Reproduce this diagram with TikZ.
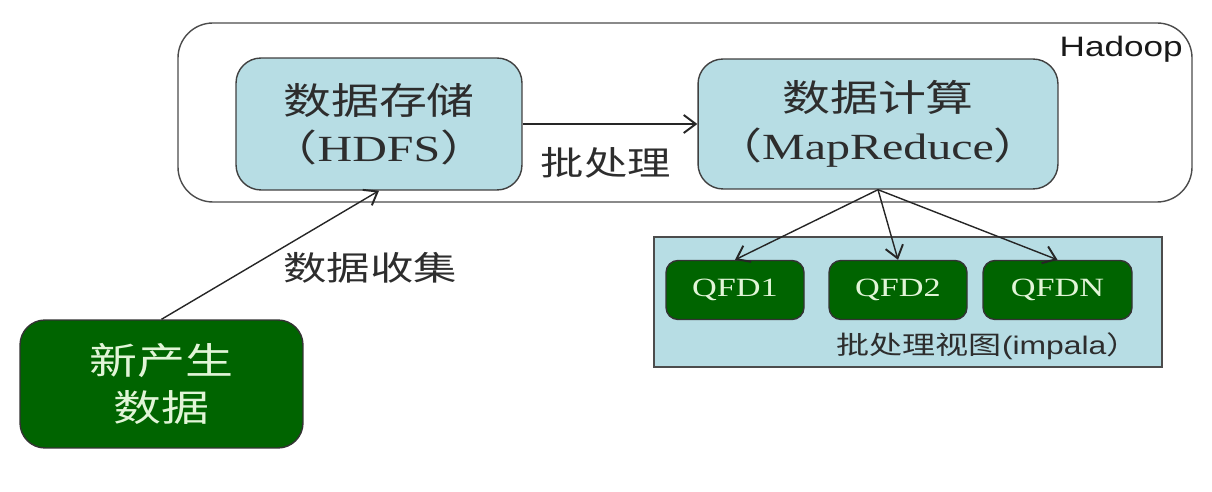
\documentclass[tikz,border=0pt]{standalone}
\usepackage{fontspec}
\setmainfont{Liberation Serif}[FakeStretch=1.3]
\newfontfamily\cjk{Noto Sans CJK SC}[FakeStretch=1.3]
\newfontfamily\hsans{Liberation Sans}[FakeStretch=1.25]
\usetikzlibrary{arrows.meta}
\definecolor{boxblue}{RGB}{183,221,228}
\definecolor{dkgreen}{RGB}{0,100,0}
\definecolor{lttext}{RGB}{225,245,215}
\definecolor{txtgray}{RGB}{45,45,45}
\tikzset{
    storebox/.style={draw=black!75, fill=boxblue, rounded corners=0.5cm, line width=0.8pt,
        align=center, text=txtgray, inner sep=0pt, font={\cjk\fontsize{21pt}{27pt}\selectfont}},
    greenbox/.style={draw=black!80, fill=dkgreen, line width=0.8pt, align=center,
        text=lttext, inner sep=0pt},
    qfdbox/.style={greenbox, rounded corners=0.24cm, minimum height=1.18cm,
        font={\fontsize{15pt}{18pt}\selectfont}},
    flow/.style={-{Straight Barb[length=2.4mm,width=3.6mm,line width=1.1pt]}, line width=0.8pt, black!85},
    lbl/.style={text=txtgray, font={\cjk\fontsize{19pt}{23pt}\selectfont}},
}
\begin{document}
\begin{tikzpicture}[x=0.02cm,y=-0.02cm]
\useasboundingbox (0,0) rectangle (1212,492);
% Hadoop
\draw[black!70, line width=0.8pt, rounded corners=0.7cm] (178,23) rectangle (1192,202);
\node[anchor=base east, text=black!90, font={\hsans\fontsize{16pt}{19pt}\selectfont}] (hadooplbl) at (1189,57) {Hadoop};
\node[storebox, minimum width=5.72cm, minimum height=2.64cm] (hdfs) at (379,124) {数据存储\\（{\rmfamily HDFS}）};
\node[storebox, minimum width=7.2cm, minimum height=2.6cm] (mapred) at (878,124) {数据计算\\（{\rmfamily MapReduce}）};
\node[lbl] (batchlbl) at (606,163) {批处理};

% impala
\node[draw=black!70, fill=boxblue, line width=0.8pt, minimum width=10.16cm, minimum height=2.6cm, inner sep=0pt] (impala) at (908,302) {};
\node[qfdbox, minimum width=2.76cm] (qfd1) at (735,290) {QFD1};
\node[qfdbox, minimum width=2.76cm] (qfd2) at (898,290) {QFD2};
\node[qfdbox, minimum width=2.98cm] (qfdn) at (1057.5,290) {QFDN};
\node[lbl, font={\cjk\fontsize{14.5pt}{18pt}\selectfont}] (impalalbl) at (988,346) {批处理视图{\hsans (impala}）};

% new data
\node[greenbox, rounded corners=0.5cm, minimum width=5.66cm, minimum height=2.56cm, font={\cjk\fontsize{21pt}{27pt}\selectfont}] (newdata) at (161.5,384) {新产生\\数据};
\node[lbl] (collectlbl) at (370,268) {数据收集};

\draw[flow] (hdfs) -- (mapred);
\draw[flow] (newdata.north) -- (hdfs.south);
\foreach \q in {qfd1,qfd2,qfdn}
    \draw[flow] (mapred.south) -- (\q.north);
\end{tikzpicture}
\end{document}
